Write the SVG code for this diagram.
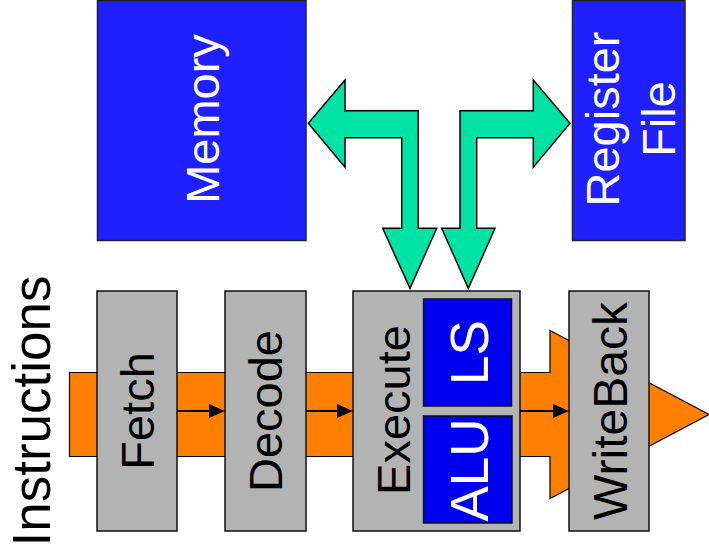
<svg xmlns="http://www.w3.org/2000/svg" width="709" height="557" viewBox="0 0 709 557">
<style>
text{font-family:"Liberation Sans",Arial,sans-serif;text-anchor:middle}
.stage{fill:#b3b3b3;stroke:#111;stroke-width:1.5}
.big{fill:#2020ff;stroke:#222;stroke-width:1.5}
.unit{fill:#0000f0;stroke:#111;stroke-width:1.5}
.lbl{font-size:47px;fill:#000}
.wl{font-size:47px;fill:#fff}
.ul{font-size:53px;fill:#fff}
.bus{fill:#00e3a5;stroke:#000;stroke-width:1.5;stroke-linejoin:miter}
.flow{fill:#ff8000;stroke:#000;stroke-width:1.2}
.ar{stroke:#000;stroke-width:2;fill:none}
.ah{fill:#000}
</style>
<g id="pipeline-flow">
<polygon class="flow" points="69.5,372.5 550,372.5 550,330.5 709,414.5 550,498.5 550,456.5 69.5,456.5"/>
</g>
<g id="memory">
<rect class="big" x="97.5" y="0.5" width="208.5" height="240"/>
<text class="wl" transform="translate(219.3,119) rotate(-90)">Memory</text>
</g>
<g id="register-file">
<rect class="big" x="572.5" y="0.5" width="112.5" height="240"/>
<text class="wl" transform="translate(619.3,119) rotate(-90)">Register</text>
<text class="wl" transform="translate(675,119) rotate(-90)">File</text>
</g>
<g id="instructions-label">
<text class="lbl" style="font-size:53px" transform="translate(50,411) rotate(-90)">Instructions</text>
</g>
<g id="fetch">
<rect class="stage" x="97" y="291" width="80" height="240"/>
<text class="lbl" transform="translate(154,411) rotate(-90)">Fetch</text>
</g>
<g id="decode">
<rect class="stage" x="225" y="291" width="81" height="240"/>
<text class="lbl" transform="translate(281.7,411) rotate(-90)">Decode</text>
</g>
<g id="execute">
<rect class="stage" x="353" y="291" width="167" height="240"/>
<text class="lbl" transform="translate(410,410) rotate(-90)">Execute</text>
</g>
<g id="ls">
<rect class="unit" x="423.5" y="299" width="88" height="107"/>
<text class="ul" transform="translate(488.3,352.5) rotate(-90)">LS</text>
</g>
<g id="alu">
<rect class="unit" x="423.5" y="416" width="88.5" height="107"/>
<text class="ul" transform="translate(488.3,470) rotate(-90)">ALU</text>
</g>
<g id="writeback">
<rect class="stage" x="569" y="291" width="80" height="240"/>
<text class="lbl" style="font-size:48px" transform="translate(627.3,411) rotate(-90)">WriteBack</text>
</g>
<g id="connectors">
<line class="ar" x1="177" y1="411" x2="211" y2="411"/>
<polygon class="ah" points="209,404 225,411 209,418"/>
<line class="ar" x1="306" y1="411" x2="339" y2="411"/>
<polygon class="ah" points="337,404 353,411 337,418"/>
<line class="ar" x1="520" y1="411" x2="555" y2="411"/>
<polygon class="ah" points="553,404 569,411 553,418"/>
<polygon class="bus" points="308.3,123.3 345,80 345,110.7 418.3,110.7 418.3,228.3 436.7,228.3 410,288.3 382.7,228.3 401.7,228.3 401.7,137.7 345,137.7 345,167.3"/>
<polygon class="bus" points="570,123.3 533.3,80 533.3,110.7 460,110.7 460,228.3 441.7,228.3 468.3,288.3 495,228.3 476.7,228.3 476.7,137.7 533.3,137.7 533.3,167.3"/>
</g>
</svg>
